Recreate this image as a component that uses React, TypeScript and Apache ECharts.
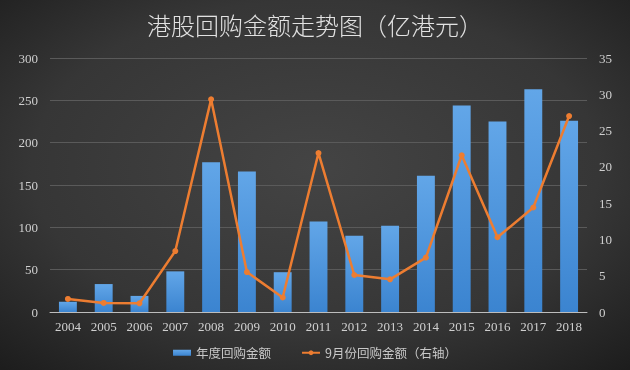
import React, { useEffect, useRef } from "react";
import * as echarts from "echarts";

const years = ["2004","2005","2006","2007","2008","2009","2010","2011","2012","2013","2014","2015","2016","2017","2018"];
const annualBuyback = [12, 33, 19, 48, 177, 166, 47, 107, 90, 102, 161, 244, 225, 263, 226];
const septBuyback = [1.8, 1.25, 1.2, 8.4, 29.3, 5.5, 2.0, 21.9, 5.1, 4.5, 7.5, 21.6, 10.3, 14.4, 27.0];
const leftTicks = { min: 0, max: 300, interval: 50 };
const rightTicks = { min: 0, max: 35, interval: 5 };

export default function App() {
  const ref = useRef<HTMLDivElement>(null);
  useEffect(() => {
    const chart = echarts.init(ref.current!, undefined, { renderer: "svg" });
    const labelFont = "'Liberation Serif', 'DejaVu Serif', serif";
    chart.setOption({
      animation: false,
      backgroundColor: new echarts.graphic.RadialGradient(0.5, 0.45, 0.75, [
        { offset: 0, color: "#444444" },
        { offset: 0.6, color: "#363636" },
        { offset: 1, color: "#1c1c1c" },
      ]),
      title: {
        text: "港股回购金额走势图（亿港元）",
        left: "center",
        top: 7,
        textStyle: {
          color: "#e2e2e2",
          fontSize: 24,
          fontWeight: 300,
          fontFamily: "'Noto Sans CJK SC', sans-serif",
        },
      },
      legend: {
        bottom: 6,
        left: "center",
        itemGap: 30,
        itemWidth: 18,
        itemHeight: 6,
        textStyle: { color: "#c8c8c8", fontSize: 12.5, fontFamily: "'Noto Sans CJK SC', serif" },
        data: [
          { name: "年度回购金额", icon: "rect" },
          { name: "9月份回购金额（右轴）" },
        ],
      },
      grid: { left: 50, right: 43, top: 58, bottom: 58 },
      xAxis: {
        type: "category",
        data: years,
        axisLine: { lineStyle: { color: "#bdbdbd", width: 1 } },
        axisTick: { show: false },
        axisLabel: { color: "#cfcfcf", fontSize: 13, fontFamily: labelFont, margin: 8 },
      },
      yAxis: [
        {
          type: "value",
          ...leftTicks,
          axisLine: { show: false },
          axisTick: { show: false },
          axisLabel: { color: "#cfcfcf", fontSize: 13, fontFamily: labelFont, margin: 12 },
          splitLine: { lineStyle: { color: "#5a5a5a", width: 1 } },
        },
        {
          type: "value",
          ...rightTicks,
          axisLine: { show: false },
          axisTick: { show: false },
          axisLabel: { color: "#cfcfcf", fontSize: 13, fontFamily: labelFont, margin: 12 },
          splitLine: { show: false },
        },
      ],
      series: [
        {
          name: "年度回购金额",
          type: "bar",
          data: annualBuyback,
          barWidth: "50%",
          itemStyle: {
            color: new echarts.graphic.LinearGradient(0, 0, 0, 1, [
              { offset: 0, color: "#62a6e8" },
              { offset: 1, color: "#3b84d0" },
            ]),
          },
        },
        {
          name: "9月份回购金额（右轴）",
          type: "line",
          yAxisIndex: 1,
          data: septBuyback,
          symbol: "circle",
          symbolSize: 6,
          lineStyle: { color: "#ed7d31", width: 2.5 },
          itemStyle: { color: "#ed7d31" },
        },
      ],
    });
    return () => chart.dispose();
  }, []);
  return <div ref={ref} style={{ position: "fixed", left: 0, top: 0, width: 630, height: 370 }} />;
}
